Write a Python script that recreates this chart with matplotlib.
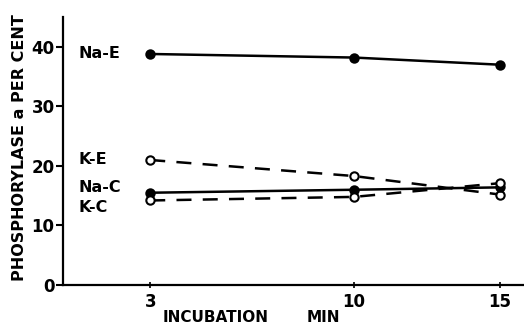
import matplotlib.pyplot as plt

minutes = [3, 10, 15]
na_e = [38.8, 38.2, 37.0]
k_e = [21.0, 18.3, 15.2]
na_c = [15.5, 16.0, 16.4]
k_c = [14.2, 14.8, 17.1]

series = [
    ("Na-E", na_e, "-", "black"),
    ("K-E", k_e, (0, (6, 4.5)), "white"),
    ("Na-C", na_c, "-", "black"),
    ("K-C", k_c, (0, (6, 4.5)), "white"),
]
label_pos = {"Na-E": 38.8, "K-E": 21.0, "Na-C": 16.4, "K-C": 13.0}

plt.rcParams['font.family'] = ['DejaVu Sans']
plt.rcParams['font.weight'] = 'bold'

fig = plt.figure(figsize=(5.24, 3.28), dpi=100)
ax = fig.add_axes([0.120, 0.131, 0.878, 0.817])

for name, vals, ls, fc in series:
    ax.plot(minutes, vals, linestyle=ls, color="black", linewidth=1.8,
            marker="o", markersize=6, markerfacecolor=fc,
            markeredgecolor="black", markeredgewidth=1.5, zorder=3)
    ax.text(0.55, label_pos[name], name, fontsize=11.5, va="center", ha="left")

ax.set_xlim(0, 15.8)
ax.set_ylim(0, 45)
ax.set_xticks(minutes)
ax.set_yticks([0, 10, 20, 30, 40])
ax.tick_params(axis="y", direction="out", length=5, width=1.5, labelsize=12, pad=1)
ax.tick_params(axis="x", direction="inout", length=5, width=1.2, labelsize=12, pad=3)
for side in ["top", "right"]:
    ax.spines[side].set_visible(False)
for side in ["left", "bottom"]:
    ax.spines[side].set_linewidth(1.6)

fig.text(0.311, 0.032, "INCUBATION", fontsize=11, fontweight="bold",
         ha="left", va="center")
fig.text(0.586, 0.032, "MIN", fontsize=11, fontweight="bold",
         ha="left", va="center")
fig.text(0.038, 0.55, "PHOSPHORYLASE a PER CENT", rotation=90, fontsize=11.5,
         fontweight="bold", ha="center", va="center")

fig.savefig("out.png", dpi=100)
